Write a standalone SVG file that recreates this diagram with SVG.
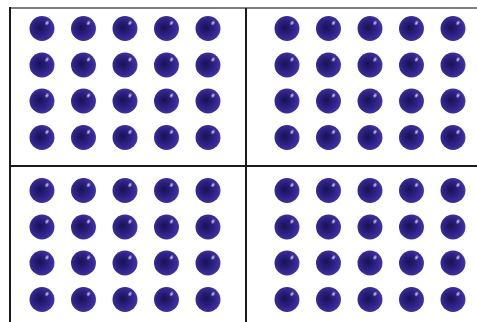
<svg xmlns="http://www.w3.org/2000/svg" xmlns:xlink="http://www.w3.org/1999/xlink" width="477" height="322" viewBox="0 0 477 322">
  <defs>
    <radialGradient id="ballGrad" cx="0.45" cy="0.5" r="0.6" fx="0.4" fy="0.45">
      <stop offset="0" stop-color="#1a1250"/>
      <stop offset="0.45" stop-color="#2a1f7e"/>
      <stop offset="0.85" stop-color="#3d2fa3"/>
      <stop offset="1" stop-color="#6a5ec6"/>
    </radialGradient>
    <radialGradient id="shine" cx="0.5" cy="0.5" r="0.5">
      <stop offset="0" stop-color="#ffffff" stop-opacity="0.8"/>
      <stop offset="1" stop-color="#ffffff" stop-opacity="0"/>
    </radialGradient>
    <g id="ball">
      <circle r="12.5" fill="url(#ballGrad)"/>
      <ellipse cx="5" cy="-5.5" rx="2.2" ry="3" fill="url(#shine)" transform="rotate(30 5 -5.5)"/>
    </g>
    <g id="grid">
      <use xlink:href="#ball" x="0" y="0"/><use xlink:href="#ball" x="41.5" y="0"/><use xlink:href="#ball" x="83" y="0"/><use xlink:href="#ball" x="124.5" y="0"/><use xlink:href="#ball" x="166" y="0"/>
      <use xlink:href="#ball" x="0" y="36.5"/><use xlink:href="#ball" x="41.5" y="36.5"/><use xlink:href="#ball" x="83" y="36.5"/><use xlink:href="#ball" x="124.5" y="36.5"/><use xlink:href="#ball" x="166" y="36.5"/>
      <use xlink:href="#ball" x="0" y="72.5"/><use xlink:href="#ball" x="41.5" y="72.5"/><use xlink:href="#ball" x="83" y="72.5"/><use xlink:href="#ball" x="124.5" y="72.5"/><use xlink:href="#ball" x="166" y="72.5"/>
      <use xlink:href="#ball" x="0" y="109"/><use xlink:href="#ball" x="41.5" y="109"/><use xlink:href="#ball" x="83" y="109"/><use xlink:href="#ball" x="124.5" y="109"/><use xlink:href="#ball" x="166" y="109"/>
    </g>
  </defs>
  <style>
    .line { stroke: #1a1a1a; stroke-width: 2; fill: none; }
    .top { stroke: #555555; stroke-width: 1.5; fill: none; }
  </style>
  <rect width="477" height="322" fill="#ffffff"/>
  <g id="lines">
    <line class="top" x1="9" y1="8" x2="477" y2="8"/>
    <line class="line" x1="10" y1="7" x2="10" y2="322"/>
    <line class="line" x1="246" y1="8" x2="246" y2="322"/>
    <line class="line" x1="10" y1="166" x2="477" y2="166"/>
  </g>
  <g id="quadrant-top-left"><use xlink:href="#grid" x="42" y="28.5"/></g>
  <g id="quadrant-top-right"><use xlink:href="#grid" x="287" y="28.5"/></g>
  <g id="quadrant-bottom-left"><use xlink:href="#grid" x="42" y="190.5"/></g>
  <g id="quadrant-bottom-right"><use xlink:href="#grid" x="287" y="190.5"/></g>
</svg>
